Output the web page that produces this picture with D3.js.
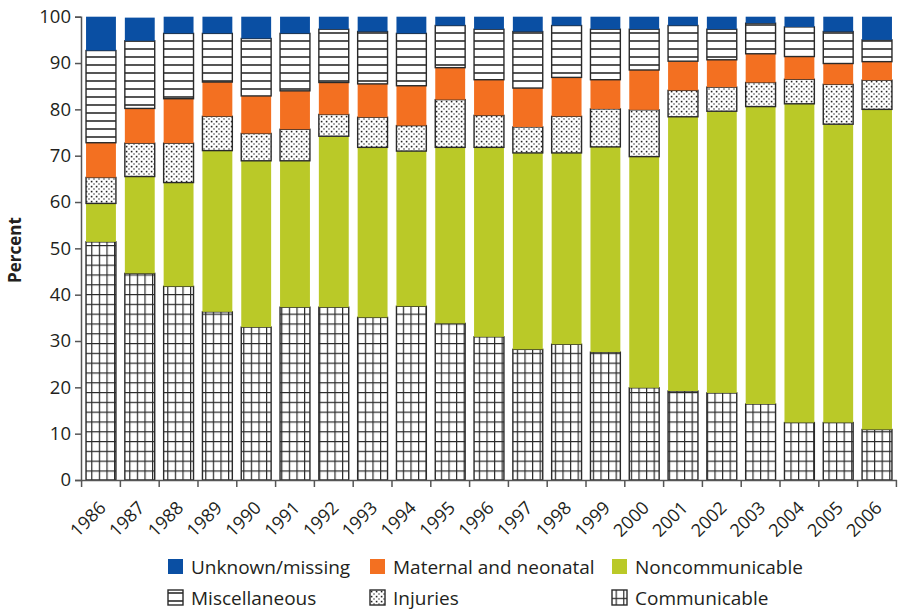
<!DOCTYPE html>
<html>
<head>
<meta charset="utf-8">
<script src="https://cdn.jsdelivr.net/npm/d3@7"></script>
<style>
  html, body { margin: 0; padding: 0; background: #fff; }
  svg { display: block; font-family: "Open Sans", "Noto Sans", sans-serif; }
</style>
</head>
<body>
<svg id="chart" width="901" height="610"></svg>
<script>
const years = ["1986","1987","1988","1989","1990","1991","1992","1993","1994","1995","1996","1997","1998","1999","2000","2001","2002","2003","2004","2005","2006"];
const communicable    = [51.4, 44.6, 41.8, 36.3, 33.0, 37.3, 37.3, 35.1, 37.5, 33.8, 30.9, 28.2, 29.3, 27.6, 19.9, 19.2, 18.8, 16.4, 12.4, 12.4, 10.9];
const noncommunicable = [ 8.3, 20.9, 22.4, 34.8, 35.9, 31.6, 36.9, 36.7, 33.5, 38.0, 40.9, 42.4, 41.3, 44.3, 49.9, 59.2, 60.8, 64.2, 68.8, 64.4, 69.1];
const injuries        = [ 5.6,  7.2,  8.5,  7.4,  5.9,  6.8,  4.7,  6.5,  5.5, 10.3,  6.9,  5.6,  7.9,  8.2, 10.1,  5.7,  5.2,  5.2,  5.3,  8.6,  6.3];
const maternal        = [ 7.5,  7.5,  9.6,  7.4,  8.1,  8.3,  6.9,  7.2,  8.6,  6.9,  7.7,  8.4,  8.4,  6.3,  8.6,  6.3,  5.9,  6.2,  4.9,  4.5,  4.0];
const miscellaneous   = [19.9, 14.6, 14.1, 10.5, 12.4, 12.4, 11.5, 11.3, 11.3,  9.1, 10.9, 12.2, 11.2, 10.9,  8.8,  7.7,  6.6,  6.6,  6.4,  6.9,  4.7];
const unknown         = [ 7.3,  5.0,  3.6,  3.6,  4.7,  3.6,  2.7,  3.2,  3.6,  1.9,  2.7,  3.2,  1.9,  2.7,  2.7,  1.9,  2.7,  1.4,  2.2,  3.2,  5.0];
const yTicks = [0,10,20,30,40,50,60,70,80,90,100];

const seriesKeys   = ["Communicable","Noncommunicable","Injuries","Maternal and neonatal","Miscellaneous","Unknown/missing"];
const seriesValues = [communicable, noncommunicable, injuries, maternal, miscellaneous, unknown];
const legendOrder  = ["Unknown/missing","Maternal and neonatal","Noncommunicable","Miscellaneous","Injuries","Communicable"];

const BLUE = "#0a4fa3", ORANGE = "#f37021", GREEN = "#bac928", INK = "#231f20";

const svg = d3.select("#chart");
const defs = svg.append("defs");

// Patterns
const pGrid = defs.append("pattern").attr("id","pGrid").attr("patternUnits","userSpaceOnUse")
  .attr("width",7.6).attr("height",9.8);
pGrid.append("rect").attr("width",7.6).attr("height",9.8).attr("fill","#fff");
pGrid.append("line").attr("x1",0.6).attr("x2",0.6).attr("y1",0).attr("y2",9.8).attr("stroke","#2a2a2a").attr("stroke-width",1.2);
pGrid.append("line").attr("x1",0).attr("x2",7.6).attr("y1",0.6).attr("y2",0.6).attr("stroke","#2a2a2a").attr("stroke-width",1.2);

const pLines = defs.append("pattern").attr("id","pLines").attr("patternUnits","userSpaceOnUse")
  .attr("width",8).attr("height",8);
pLines.append("rect").attr("width",8).attr("height",8).attr("fill","#fff");
pLines.append("line").attr("x1",0).attr("x2",8).attr("y1",1).attr("y2",1).attr("stroke","#2a2a2a").attr("stroke-width",1.6);

const pDots = defs.append("pattern").attr("id","pDots").attr("patternUnits","userSpaceOnUse")
  .attr("width",5).attr("height",5);
pDots.append("rect").attr("width",5).attr("height",5).attr("fill","#fff");
pDots.append("rect").attr("x",0.8).attr("y",0.8).attr("width",1.6).attr("height",1.6).attr("fill","#222");
pDots.append("rect").attr("x",3.3).attr("y",3.3).attr("width",1.4).attr("height",1.4).attr("fill","#555");

const fills = {
  "Communicable": "url(#pGrid)",
  "Noncommunicable": GREEN,
  "Injuries": "url(#pDots)",
  "Maternal and neonatal": ORANGE,
  "Miscellaneous": "url(#pLines)",
  "Unknown/missing": BLUE
};
const patterned = new Set(["Communicable","Injuries","Miscellaneous"]);

// Table for stacking
const table = years.map((y, i) => {
  const row = { year: y };
  seriesKeys.forEach((k, j) => row[k] = seriesValues[j][i]);
  return row;
});
const stacked = d3.stack().keys(seriesKeys)(table);

const x = d3.scaleBand().domain(years).range([81, 897]).paddingInner(0.23).paddingOuter(0.13);
const y = d3.scaleLinear().domain([0, 100]).range([480, 16.7]);

// Bars
const layers = svg.append("g").selectAll("g").data(stacked).join("g")
  .attr("fill", d => fills[d.key]);
layers.selectAll("rect").data(d => d.map(p => Object.assign(p, { key: d.key }))).join("rect")
  .attr("x", d => x(d.data.year))
  .attr("width", x.bandwidth())
  .attr("y", d => y(d[1]))
  .attr("height", d => y(d[0]) - y(d[1]))
  .attr("stroke", d => patterned.has(d.key) ? "#2a2a2a" : "none")
  .attr("stroke-width", 1.4);

// Y axis
const yAxis = svg.append("g").attr("transform", "translate(81,0)")
  .call(d3.axisLeft(y).tickValues(yTicks).tickSize(6).tickPadding(4).tickFormat(d3.format("d")));
yAxis.select(".domain").attr("stroke", "#555").attr("stroke-width", 1.5);
yAxis.selectAll(".tick line").attr("stroke", "#555").attr("stroke-width", 1.5);
yAxis.selectAll("text").attr("font-size", 18.5).attr("fill", INK).attr("font-family", "'Open Sans', sans-serif");

// X axis
const step = x.step();
const gap = (step - x.bandwidth()) / 2;
const xg = svg.append("g");
xg.append("line").attr("x1", 81).attr("x2", 897).attr("y1", 480.5).attr("y2", 480.5)
  .attr("stroke", "#555").attr("stroke-width", 1.5);
const boundaries = years.map(d => x(d) - gap).concat([x(years[years.length - 1]) + x.bandwidth() + gap]);
xg.selectAll("line.tk").data(boundaries).join("line").attr("class", "tk")
  .attr("x1", d => d).attr("x2", d => d).attr("y1", 480).attr("y2", 487)
  .attr("stroke", "#555").attr("stroke-width", 1.5);
xg.selectAll("text").data(years).join("text")
  .attr("transform", d => `translate(${x(d) + x.bandwidth() / 2 + 6},${509}) rotate(-45)`)
  .attr("text-anchor", "end")
  .attr("font-size", 18)
  .attr("fill", INK)
  .text(d => d);

// Y label
svg.append("text")
  .attr("transform", "translate(21,250) rotate(-90)")
  .attr("text-anchor", "middle")
  .attr("font-size", 17)
  .attr("font-weight", "bold")
  .attr("fill", INK)
  .text("Percent");

// Legend
const legendCols = [168, 370, 612];
const legendRows = [559, 590];
const lg = svg.append("g");
legendOrder.forEach((k, i) => {
  const cx = legendCols[i % 3], cy = legendRows[Math.floor(i / 3)];
  lg.append("rect").attr("x", cx).attr("y", cy).attr("width", 15).attr("height", 15)
    .attr("fill", fills[k])
    .attr("stroke", patterned.has(k) ? "#2a2a2a" : "none").attr("stroke-width", 1.4);
  lg.append("text").attr("x", cx + 23).attr("y", cy + 14.5)
    .attr("font-size", 19).attr("fill", INK).text(k);
});
</script>
</body>
</html>
